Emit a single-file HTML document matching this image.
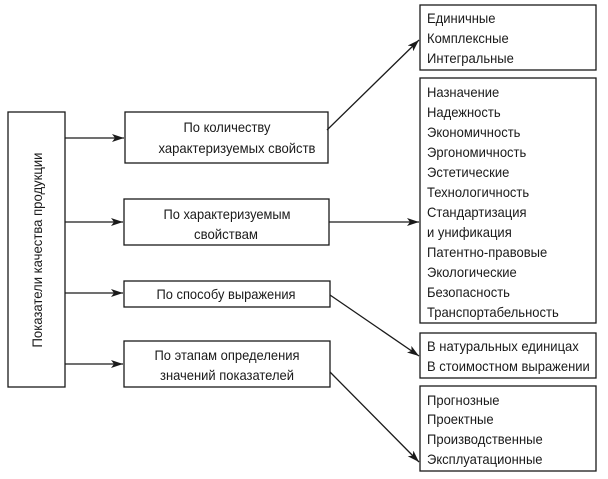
<!DOCTYPE html>
<html><head><meta charset="utf-8"><style>
html,body{margin:0;padding:0;background:#fff;}
svg{display:block;}
text{font-family:"Liberation Sans",sans-serif;font-size:14px;fill:#1a1a1a;}
</style></head><body>
<svg width="608" height="479" viewBox="0 0 608 479" xmlns="http://www.w3.org/2000/svg">
<defs>
<marker id="a" viewBox="0 0 12 8" refX="12" refY="4" markerWidth="12" markerHeight="8" markerUnits="userSpaceOnUse" orient="auto">
<path d="M0,0 L12,4 L0,8 L3,4 Z" fill="#1a1a1a"/>
</marker>
</defs>
<g fill="none" stroke="#1a1a1a" stroke-width="1.3">
<rect x="8" y="112" width="57" height="275"/>
<rect x="125" y="112" width="203" height="51"/>
<rect x="124" y="199" width="205" height="46"/>
<rect x="124" y="281" width="206" height="26"/>
<rect x="124" y="341" width="206" height="46"/>
<rect x="420" y="5" width="176" height="65"/>
<rect x="420" y="78" width="176" height="245"/>
<rect x="420" y="333" width="176" height="45"/>
<rect x="420" y="386" width="176" height="85"/>
<line x1="65" y1="138" x2="124" y2="138" marker-end="url(#a)"/>
<line x1="65" y1="222" x2="123" y2="222" marker-end="url(#a)"/>
<line x1="65" y1="293" x2="123" y2="293" marker-end="url(#a)"/>
<line x1="65" y1="364" x2="123" y2="364" marker-end="url(#a)"/>
<line x1="327" y1="130" x2="419" y2="40" marker-end="url(#a)"/>
<line x1="329" y1="222" x2="419" y2="222" marker-end="url(#a)"/>
<line x1="330" y1="295" x2="419" y2="356" marker-end="url(#a)"/>
<line x1="330" y1="372" x2="419" y2="462" marker-end="url(#a)"/>
</g>
<text transform="translate(42,250) rotate(-90)" text-anchor="middle" textLength="195" lengthAdjust="spacingAndGlyphs">Показатели качества продукции</text>
<g text-anchor="middle">
<text x="227" y="132" textLength="87" lengthAdjust="spacingAndGlyphs">По количеству</text>
<text x="237" y="153" textLength="157" lengthAdjust="spacingAndGlyphs">характеризуемых свойств</text>
<text x="227" y="219" textLength="127" lengthAdjust="spacingAndGlyphs">По характеризуемым</text>
<text x="226" y="239" textLength="64" lengthAdjust="spacingAndGlyphs">свойствам</text>
<text x="226" y="299" textLength="139" lengthAdjust="spacingAndGlyphs">По способу выражения</text>
<text x="227" y="360" textLength="145" lengthAdjust="spacingAndGlyphs">По этапам определения</text>
<text x="227" y="380" textLength="134" lengthAdjust="spacingAndGlyphs">значений показателей</text>
</g>
<g transform="translate(427,0) scale(0.93,1)">
<text x="0" y="23">Единичные</text>
<text x="0" y="43">Комплексные</text>
<text x="0" y="63">Интегральные</text>
<text x="0" y="97">Назначение</text>
<text x="0" y="117">Надежность</text>
<text x="0" y="137">Экономичность</text>
<text x="0" y="157">Эргономичность</text>
<text x="0" y="177">Эстетические</text>
<text x="0" y="197">Технологичность</text>
<text x="0" y="217">Стандартизация</text>
<text x="0" y="237">и унификация</text>
<text x="0" y="257">Патентно-правовые</text>
<text x="0" y="277">Экологические</text>
<text x="0" y="297">Безопасность</text>
<text x="0" y="317">Транспортабельность</text>
<text x="0" y="351">В натуральных единицах</text>
<text x="0" y="371" textLength="175" lengthAdjust="spacingAndGlyphs">В стоимостном выражении</text>
<text x="0" y="405">Прогнозные</text>
<text x="0" y="424">Проектные</text>
<text x="0" y="444">Производственные</text>
<text x="0" y="464">Эксплуатационные</text>
</g>
</svg>
</body></html>
